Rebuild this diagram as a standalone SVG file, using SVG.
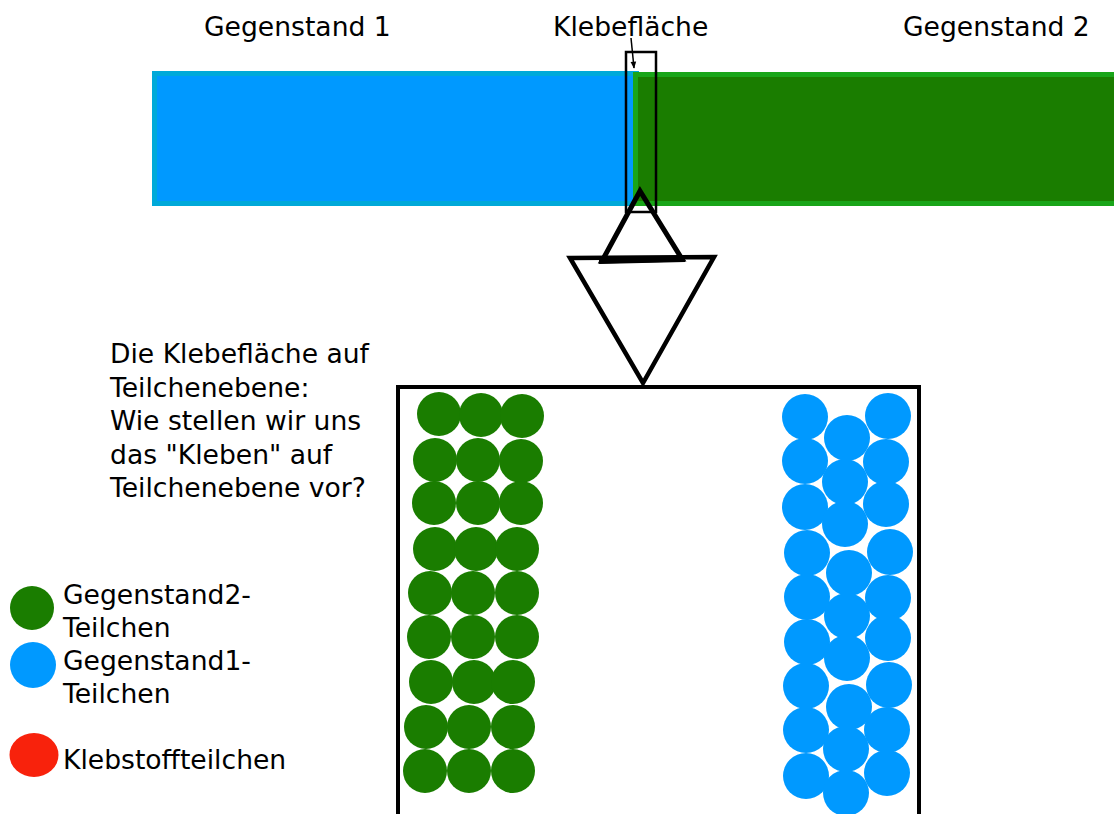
<svg xmlns="http://www.w3.org/2000/svg" width="1114" height="814" viewBox="0 0 1114 814">
<style>
text{font-family:"DejaVu Sans",sans-serif;font-size:26.6px;fill:#000}
.g{fill:#1a7d00}
.b{fill:#0099ff}
.ol{fill:none;stroke:#000}
</style>
<defs>
<marker id="ah" viewBox="0 0 10 10" refX="9" refY="5" markerWidth="8" markerHeight="7" orient="auto" markerUnits="userSpaceOnUse">
<path d="M0,1 L10,5 L0,9 Z" fill="#000"/>
</marker>
</defs>
<rect width="1114" height="814" fill="#fff"/>
<g id="gegenstand1">
<rect x="154.5" y="73.5" width="482" height="130" fill="#0099ff" stroke="#00a9d9" stroke-width="5"/>
<text x="204" y="36">Gegenstand 1</text>
</g>
<g id="gegenstand2">
<rect x="635.5" y="74.5" width="490" height="129" fill="#1a7d00" stroke="#19a519" stroke-width="5"/>
<text x="903" y="36">Gegenstand 2</text>
</g>
<g id="klebeflaeche">
<rect x="626" y="52" width="30" height="160" class="ol" stroke-width="2.5"/>
<text x="553" y="36">Klebefläche</text>
</g>
<g id="connectors">
<line x1="631" y1="38" x2="634" y2="68" stroke="#000" stroke-width="1.5" marker-end="url(#ah)"/>
<path d="M570,258 L714,257 L643,383 Z" fill="#fff" stroke="#000" stroke-width="4.5"/>
<path d="M640,191 L602,261 L682,259 Z" class="ol" stroke-width="5" stroke-linejoin="miter"/>
<line x1="599" y1="261" x2="685" y2="259" stroke="#000" stroke-width="6"/>
</g>
<g id="frage">
<text x="110" y="363">Die Klebefläche auf</text>
<text x="110" y="396.5">Teilchenebene:</text>
<text x="110" y="430">Wie stellen wir uns</text>
<text x="110" y="463.5">das "Kleben" auf</text>
<text x="110" y="497">Teilchenebene vor?</text>
</g>
<g id="teilchenebene">
<path d="M398,814 L398,387 L919,387 L919,814" class="ol" stroke-width="4"/>
<g id="teilchen2">
<circle class="g" cx="439" cy="414" r="22"/><circle class="g" cx="481" cy="415" r="22"/><circle class="g" cx="522" cy="416" r="22"/>
<circle class="g" cx="435" cy="460" r="22"/><circle class="g" cx="478" cy="460" r="22"/><circle class="g" cx="521" cy="461" r="22"/>
<circle class="g" cx="434" cy="503" r="22"/><circle class="g" cx="478" cy="503" r="22"/><circle class="g" cx="521" cy="503" r="22"/>
<circle class="g" cx="435" cy="549" r="22"/><circle class="g" cx="476" cy="549" r="22"/><circle class="g" cx="517" cy="549" r="22"/>
<circle class="g" cx="430" cy="593" r="22"/><circle class="g" cx="473" cy="593" r="22"/><circle class="g" cx="517" cy="593" r="22"/>
<circle class="g" cx="429" cy="637" r="22"/><circle class="g" cx="473" cy="637" r="22"/><circle class="g" cx="517" cy="637" r="22"/>
<circle class="g" cx="431" cy="682" r="22"/><circle class="g" cx="474" cy="682" r="22"/><circle class="g" cx="513" cy="682" r="22"/>
<circle class="g" cx="426" cy="727" r="22"/><circle class="g" cx="469" cy="727" r="22"/><circle class="g" cx="513" cy="727" r="22"/>
<circle class="g" cx="425" cy="771" r="22"/><circle class="g" cx="469" cy="771" r="22"/><circle class="g" cx="513" cy="771" r="22"/>
</g>
<g id="teilchen1">
<circle class="b" cx="805" cy="417" r="23"/><circle class="b" cx="805" cy="461" r="23"/><circle class="b" cx="805" cy="507" r="23"/>
<circle class="b" cx="807" cy="553" r="23"/><circle class="b" cx="807" cy="597" r="23"/><circle class="b" cx="807" cy="642" r="23"/>
<circle class="b" cx="806" cy="686" r="23"/><circle class="b" cx="806" cy="730" r="23"/><circle class="b" cx="806" cy="776" r="23"/>
<circle class="b" cx="847" cy="438" r="23"/><circle class="b" cx="845" cy="482" r="23"/><circle class="b" cx="845" cy="524" r="23"/>
<circle class="b" cx="849" cy="573" r="23"/><circle class="b" cx="847" cy="616" r="23"/><circle class="b" cx="847" cy="658" r="23"/>
<circle class="b" cx="849" cy="707" r="23"/><circle class="b" cx="846" cy="749" r="23"/><circle class="b" cx="846" cy="793" r="23"/>
<circle class="b" cx="888" cy="416" r="23"/><circle class="b" cx="886" cy="462" r="23"/><circle class="b" cx="886" cy="504" r="23"/>
<circle class="b" cx="890" cy="552" r="23"/><circle class="b" cx="888" cy="598" r="23"/><circle class="b" cx="888" cy="638" r="23"/>
<circle class="b" cx="889" cy="685" r="23"/><circle class="b" cx="887" cy="730" r="23"/><circle class="b" cx="887" cy="773" r="23"/>
</g>
</g>
<g id="legende">
<g id="legende-g2">
<circle class="g" cx="32" cy="608" r="22"/>
<text x="63" y="604">Gegenstand2-</text>
<text x="63" y="637">Teilchen</text>
</g>
<g id="legende-g1">
<circle class="b" cx="33" cy="665" r="23"/>
<text x="63" y="670">Gegenstand1-</text>
<text x="63" y="703">Teilchen</text>
</g>
<g id="legende-kleb">
<ellipse cx="34" cy="755" rx="24.5" ry="22" fill="#f8220c"/>
<text x="63" y="769">Klebstoffteilchen</text>
</g>
</g>
</svg>
